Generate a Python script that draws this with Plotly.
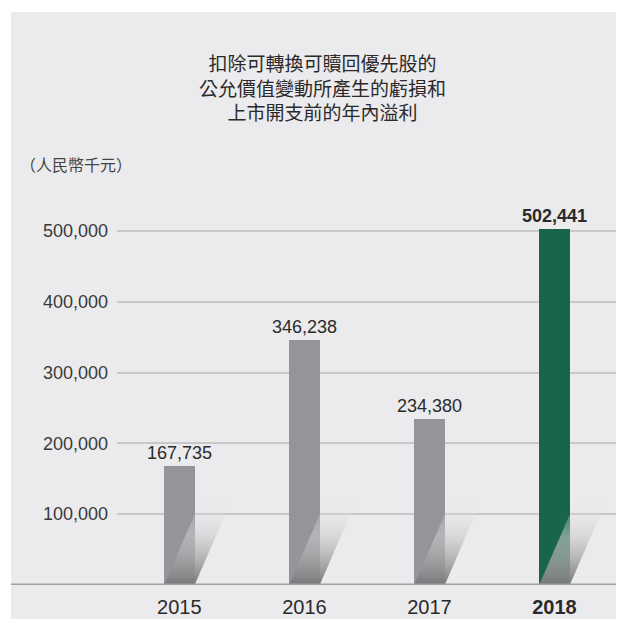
import plotly.graph_objects as go

# ---- data ----
years = ["2015", "2016", "2017", "2018"]
values = [167735, 346238, 234380, 502441]
highlight = [False, False, False, True]
y_tick_values = [100000, 200000, 300000, 400000, 500000]
y_tick_labels = ["100,000", "200,000", "300,000", "400,000", "500,000"]
title_lines = ["扣除可轉換可贖回優先股的", "公允價值變動所產生的虧損和", "上市開支前的年內溢利"]
unit_label = "（人民幣千元）"

# ---- style ----
OFF = 8                      # page body margin offset
W, H = 608, 611              # figure size so page (with body margins) is 624x627
ML, MR, MT = 109, 0, 152
PLOT_H = 425
MB = H - MT - PLOT_H
panel_color = "#ebebed"
grid_color = "#c8c8ca"
axis_color = "#a0a0a2"
bar_gray = "#939598"
bar_green = "#18654b"
text_color = "#2a2a2a"
num_font = "Liberation Sans, Arial, sans-serif"
cjk_font = "Noto Sans CJK TC, Noto Sans CJK SC, sans-serif"
bar_width = 0.245
shadow_dx = 0.30
shadow_h = 122000
y_max = 600000
cat_px = 125.0               # pixel pitch between categories

plot_w = W - ML - MR
plot_h = H - MT - MB


def px_x(rx):
    """window pixel x (reference) -> paper fraction"""
    return (rx - OFF - ML) / plot_w


def px_y(ry):
    """window pixel y (reference) -> paper fraction"""
    return (H - MB - (ry - OFF)) / plot_h


xs = list(range(len(years)))

fig = go.Figure()

# shadows (drawn first so bars cover them)
for i, x in enumerate(xs):
    sx = [x - bar_width / 2, x + bar_width / 2, x + bar_width / 2 + shadow_dx,
          x - bar_width / 2 + shadow_dx, x - bar_width / 2]
    sy = [0, 0, shadow_h, shadow_h, 0]
    fig.add_trace(go.Scatter(
        x=sx, y=sy, mode="lines", fill="toself",
        line=dict(width=0, color="rgba(0,0,0,0)"),
        fillgradient=dict(
            type="vertical",
            start=0, stop=shadow_h,
            colorscale=[[0, "rgba(120,120,122,1)"], [0.55, "rgba(200,200,202,0.6)"],
                        [1, "rgba(235,235,237,0)"]],
        ),
        hoverinfo="skip", showlegend=False,
    ))

bar_colors = [bar_green if h else bar_gray for h in highlight]
bar_text = [f"<b>{v:,}</b>" if h else f"{v:,}" for v, h in zip(values, highlight)]

fig.add_trace(go.Bar(
    x=xs, y=values, width=bar_width,
    marker=dict(color=bar_colors, line=dict(width=0)),
    text=bar_text, textposition="outside", constraintext="none",
    textfont=dict(family=num_font, size=18, color=text_color),
    cliponaxis=False, showlegend=False, hoverinfo="skip",
))

x_tick_text = [f"<b>{y}</b>" if h else y for y, h in zip(years, highlight)]

shapes = [
    dict(type="rect", xref="paper", yref="paper", layer="below",
         x0=px_x(11), x1=px_x(640), y0=px_y(650), y1=px_y(12),
         fillcolor=panel_color, line=dict(width=0)),
    dict(type="line", xref="paper", yref="y", layer="above",
         x0=px_x(11), x1=px_x(640), y0=0, y1=0,
         line=dict(color=axis_color, width=3)),
]

annotations = [
    dict(text="<br>".join(title_lines), xref="paper", yref="paper",
         x=px_x(322), y=px_y(87), xanchor="center", yanchor="middle",
         align="center", showarrow=False,
         font=dict(family=cjk_font, size=19, color=text_color)),
    dict(text=unit_label, xref="paper", yref="paper", x=px_x(18), y=px_y(164),
         xanchor="left", yanchor="middle", showarrow=False,
         font=dict(family=cjk_font, size=16, color="#444")),
]

fig.update_layout(
    width=W, height=H,
    margin=dict(l=ML, r=MR, t=MT, b=MB),
    paper_bgcolor="white", plot_bgcolor="rgba(0,0,0,0)",
    shapes=shapes, annotations=annotations,
    bargap=0,
    xaxis=dict(
        range=[-(179.3 - OFF - ML) / cat_px, 3 + (W + OFF - 554.5) / cat_px],
        tickvals=xs, ticktext=x_tick_text, showgrid=False, zeroline=False,
        showline=False, ticks="", ticklabelstandoff=8,
        tickfont=dict(family=num_font, size=20, color=text_color),
        fixedrange=True,
    ),
    yaxis=dict(
        range=[0, y_max], tickvals=y_tick_values, ticktext=y_tick_labels,
        showgrid=True, gridcolor=grid_color, gridwidth=1.5, zeroline=False,
        showline=False, ticks="", ticklabelstandoff=8,
        tickfont=dict(family=num_font, size=18, color="#3a3a3a"),
        fixedrange=True,
    ),
)

fig.write_html("out.html")
